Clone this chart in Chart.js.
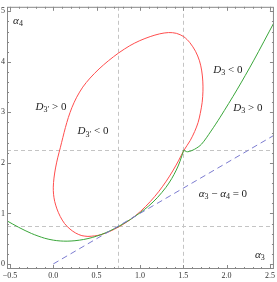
<!DOCTYPE html>
<html>
<head>
<meta charset="utf-8">
<script src="https://cdn.jsdelivr.net/npm/chart.js@4"></script>
<style>
  html, body { margin: 0; padding: 0; background: #fff; }
  #wrap { width: 277px; height: 282px; }
</style>
</head>
<body>
<div id="wrap"><canvas id="chart" width="277" height="282"></canvas></div>
<script>
// axes
const xTicks = [-0.5, 0, 0.5, 1, 1.5, 2, 2.5];
const yTicks = [0, 1, 2, 3, 4, 5];
const xRange = [-0.534, 2.546];
const yRange = [-0.1, 5.09];

// dashed guide lines
const guideX = [0.75, 1.5];
const guideY = [0.75, 2.25];

const redX = [0.40, 0.33, 0.26, 0.193, 0.13, 0.08, 0.042, 0.016, 0.003, 0.0, 0.008, 0.026, 0.051, 0.081, 0.110, 0.140, 0.174, 0.216, 0.270, 0.340, 0.425, 0.528, 0.635, 0.757, 0.883, 0.998, 1.118, 1.228, 1.33, 1.42, 1.504, 1.576, 1.641, 1.687, 1.713, 1.725, 1.727, 1.718, 1.696, 1.671, 1.631, 1.579, 1.504, 1.444, 1.378, 1.304, 1.220, 1.122, 1.006, 0.891, 0.762, 0.647, 0.551, 0.476, 0.40];
const redY = [0.545, 0.56, 0.61, 0.69, 0.80, 0.94, 1.09, 1.24, 1.38, 1.52, 1.70, 1.90, 2.10, 2.30, 2.50, 2.70, 2.90, 3.10, 3.30, 3.50, 3.68, 3.86, 4.02, 4.18, 4.32, 4.42, 4.50, 4.555, 4.58, 4.565, 4.50, 4.38, 4.21, 4.02, 3.82, 3.62, 3.42, 3.20, 2.98, 2.80, 2.62, 2.44, 2.24, 2.04, 1.84, 1.64, 1.44, 1.24, 1.04, 0.88, 0.74, 0.64, 0.58, 0.555, 0.545];

// green curve (D3 = 0), two branches meeting at the cusp
const greenLeftX = [-0.534, -0.40, -0.25, -0.10, 0.0, 0.08, 0.16, 0.25, 0.35, 0.45, 0.55, 0.65, 0.758, 0.88, 1.0, 1.10, 1.20, 1.30, 1.366, 1.419, 1.46, 1.504];
const greenLeftY = [0.853, 0.726, 0.602, 0.509, 0.471, 0.455, 0.451, 0.460, 0.484, 0.524, 0.580, 0.652, 0.747, 0.871, 1.011, 1.146, 1.311, 1.516, 1.688, 1.858, 2.022, 2.25];
const greenRightX = [1.504, 1.55, 1.63, 1.71, 1.82, 1.926, 2.119, 2.31, 2.546];
const greenRightY = [2.25, 2.22, 2.27, 2.37, 2.63, 2.906, 3.446, 4.02, 4.775];

// a3 - a4 = 0
const diagX = [0, 2.546];
const diagY = [0, 2.546];

// text labels (data coords), parts: [text, style] i = italic, s = subscript
const notes = [
    { x: -0.027, y: 3.10, parts: [['D', 'i'], ['3′', 's'], [' > 0', '']] },
    { x: 0.458, y: 2.62, parts: [['D', 'i'], ['3′', 's'], [' < 0', '']] },
    { x: 2.015, y: 3.84, parts: [['D', 'i'], ['3', 's'], [' < 0', '']] },
    { x: 2.245, y: 3.08, parts: [['D', 'i'], ['3', 's'], [' > 0', '']] },
    { x: 1.957, y: 1.38, parts: [['α', 'i'], ['3', 's'], [' − ', ''], ['α', 'i'], ['4', 's'], [' = 0', '']] },
    { x: -0.407, y: 4.81, parts: [['α', 'i'], ['4', 's']] },
    { x: 2.384, y: 0.17, parts: [['α', 'i'], ['3', 's']] }
];

const pts = (xs, ys) => xs.map((x, i) => ({ x, y: ys[i] }));
const SERIF = '"Liberation Serif", "DejaVu Serif", serif';

function fontFor(style) {
    if (style === 'i') return 'italic 11px ' + SERIF;
    if (style === 's') return '8px ' + SERIF;
    return '11px ' + SERIF;
}

const framePlugin = {
    id: 'frame',
    beforeDatasetsDraw(chart) {
        const { ctx, chartArea: a, scales: { x, y } } = chart;
        ctx.save();
        ctx.strokeStyle = '#c4c4c4';
        ctx.lineWidth = 1;
        ctx.setLineDash([4, 3]);
        guideX.forEach(v => {
            const px = Math.round(x.getPixelForValue(v)) + 0.5;
            ctx.beginPath(); ctx.moveTo(px, a.top); ctx.lineTo(px, a.bottom); ctx.stroke();
        });
        guideY.forEach(v => {
            const py = Math.round(y.getPixelForValue(v)) + 0.5;
            ctx.beginPath(); ctx.moveTo(a.left, py); ctx.lineTo(a.right, py); ctx.stroke();
        });
        ctx.restore();
    },
    afterDatasetsDraw(chart) {
        const { ctx, chartArea: a, scales: { x, y } } = chart;
        ctx.save();
        // frame + inward ticks on all four sides
        ctx.strokeStyle = '#888';
        ctx.lineWidth = 1;
        ctx.strokeRect(a.left + 0.5, a.top + 0.5, a.right - a.left - 1, a.bottom - a.top - 1);
        ctx.beginPath();
        for (let i = -5; i <= 25; i++) {
            const px = Math.round(x.getPixelForValue(i / 10)) + 0.5;
            const len = i % 5 === 0 ? 4 : 2;
            ctx.moveTo(px, a.bottom); ctx.lineTo(px, a.bottom - len);
            ctx.moveTo(px, a.top); ctx.lineTo(px, a.top + len);
        }
        for (let j = 0; j <= 25; j++) {
            const py = Math.round(y.getPixelForValue(j / 5)) + 0.5;
            const len = j % 5 === 0 ? 4 : 2;
            ctx.moveTo(a.left, py); ctx.lineTo(a.left + len, py);
            ctx.moveTo(a.right, py); ctx.lineTo(a.right - len, py);
        }
        ctx.stroke();

        // labels
        ctx.fillStyle = '#222';
        ctx.textBaseline = 'middle';
        ctx.textAlign = 'left';
        notes.forEach(n => {
            let w = 0;
            n.parts.forEach(([t, s]) => { ctx.font = fontFor(s); w += ctx.measureText(t).width; });
            let cx = x.getPixelForValue(n.x) - w / 2;
            const cy = y.getPixelForValue(n.y);
            n.parts.forEach(([t, s]) => {
                ctx.font = fontFor(s);
                ctx.fillText(t, cx, s === 's' ? cy + 3 : cy);
                cx += ctx.measureText(t).width;
            });
        });
        ctx.restore();
    }
};

const ctx = document.getElementById('chart').getContext('2d');
new Chart(ctx, {
    type: 'scatter',
    data: {
        datasets: [
            { data: pts(diagX, diagY), borderColor: '#7c7cd0', borderDash: [6, 4], borderWidth: 1, showLine: true, pointRadius: 0 },
            { data: pts(greenLeftX, greenLeftY), borderColor: '#3aa63a', borderWidth: 1, showLine: true, tension: 0.3, pointRadius: 0 },
            { data: pts(greenRightX, greenRightY), borderColor: '#3aa63a', borderWidth: 1, showLine: true, tension: 0.3, pointRadius: 0 },
            { data: pts(redX, redY), borderColor: '#ff4d4d', borderWidth: 1, showLine: true, tension: 0.3, pointRadius: 0 }
        ]
    },
    options: {
        responsive: false,
        animation: false,
        devicePixelRatio: 1,
        layout: { padding: { top: 2, right: 3, left: 0, bottom: 0 } },
        plugins: { legend: { display: false }, tooltip: { enabled: false } },
        scales: {
            x: {
                type: 'linear', min: xRange[0], max: xRange[1],
                grid: { display: false, drawTicks: false },
                border: { display: false },
                afterBuildTicks: s => { s.ticks = xTicks.map(v => ({ value: v })); },
                afterFit: s => { s.height = 13; },
                ticks: {
                    padding: 2, autoSkip: false, maxRotation: 0, color: '#333',
                    font: { family: SERIF, size: 8 },
                    callback: v => v.toFixed(1).replace('-', '−')
                }
            },
            y: {
                type: 'linear', min: yRange[0], max: yRange[1],
                grid: { display: false, drawTicks: false },
                border: { display: false },
                afterBuildTicks: s => { s.ticks = yTicks.map(v => ({ value: v })); },
                afterFit: s => { s.width = 7; },
                ticks: {
                    padding: 2, autoSkip: false, color: '#333',
                    font: { family: SERIF, size: 8 },
                    callback: v => String(v)
                }
            }
        }
    },
    plugins: [framePlugin]
});
</script>
</body>
</html>
